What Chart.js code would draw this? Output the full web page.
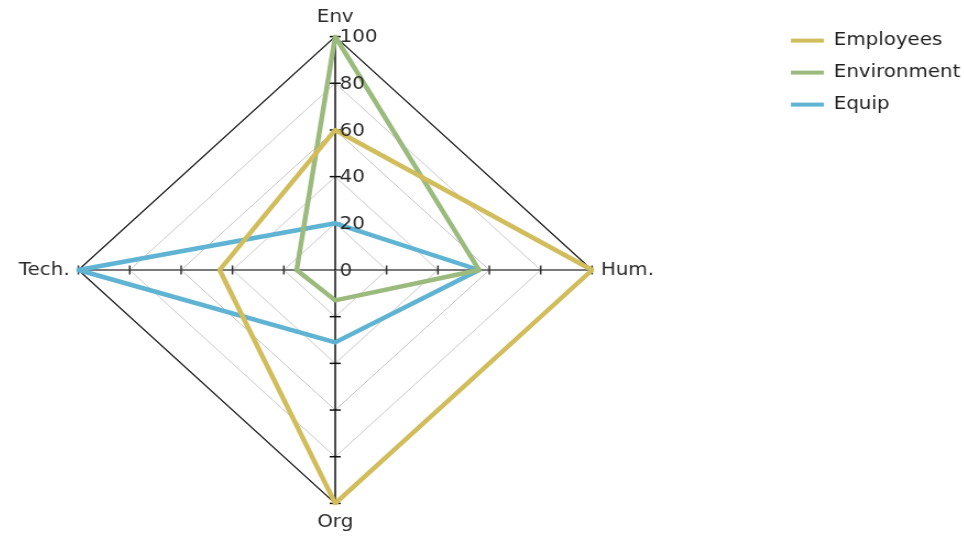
<!DOCTYPE html>
<html>
<head>
<meta charset="utf-8">
<script src="https://cdn.jsdelivr.net/npm/chart.js@4.4.0/dist/chart.umd.min.js"></script>
<style>
  html, body { margin: 0; padding: 0; background: #fff; overflow: hidden; }
  /* the reference is drawn slightly wider than tall, so stretch the canvas;
     the canvas is wider than the page and shifted so the radar sits left of centre */
  #wrap { width: 978px; height: 536px; transform: translateX(-105px) scaleX(1.1005); transform-origin: 0 0; }
</style>
</head>
<body>
<div id="wrap"><canvas id="radar" width="978" height="536"></canvas></div>
<script>
const axes = ["Env", "Hum.", "Org", "Tech."];
const employees = [60, 100, 100, 45];
const environment = [100, 56, 13, 15];
const equip = [20, 56, 31, 100];
const tickValues = [0, 20, 40, 60, 80, 100];
const tickLabels = ["0", "20", "40", "60", "80", "100"];

const FONT = "'DejaVu Sans', Verdana, sans-serif";

// tick marks across each axis + value labels along the top axis
const axisTicks = {
  id: "axisTicks",
  beforeDatasetsDraw(chart) {
    const s = chart.scales.r;
    const ctx = chart.ctx;
    ctx.save();
    axes.forEach((name, i) => {
      const a = s.getIndexAngle(i) - Math.PI / 2;
      const nx = -Math.sin(a);
      const ny = Math.cos(a);
      const half = i % 2 === 0 ? 5 : 4.5;
      ctx.strokeStyle = i % 2 === 0 ? "#111" : "#333";
      ctx.lineWidth = 1.5;
      tickValues.slice(1).forEach((v) => {
        const p = s.getPointPositionForValue(i, v);
        ctx.beginPath();
        ctx.moveTo(p.x - nx * half, p.y - ny * half);
        ctx.lineTo(p.x + nx * half, p.y + ny * half);
        ctx.stroke();
      });
    });
    ctx.restore();
  },
  afterDatasetsDraw(chart) {
    const s = chart.scales.r;
    const ctx = chart.ctx;
    ctx.save();
    ctx.font = "18px " + FONT;
    ctx.fillStyle = "#2a2a2a";
    ctx.textAlign = "left";
    ctx.textBaseline = "middle";
    tickValues.forEach((v, k) => {
      const p = s.getPointPositionForValue(0, v);
      ctx.fillText(tickLabels[k], p.x + 4, p.y + 1);
    });
    ctx.restore();
  },
};

const gold = "#d2bd5c";
const green = "#9bba7d";
const blue = "#5fb3d3";

function series(label, data, color) {
  return {
    label: label,
    data: data,
    borderColor: color,
    backgroundColor: color,
    borderWidth: 4.5,
    borderJoinStyle: "bevel",
    fill: false,
    pointStyle: "rect",
    pointRadius: 2.5,
    pointBorderWidth: 0,
    pointBackgroundColor: color,
  };
}

new Chart(document.getElementById("radar"), {
  type: "radar",
  data: {
    labels: axes,
    datasets: [
      series("Employees", employees, gold),
      series("Environment", environment, green),
      series("Equip", equip, blue),
    ],
  },
  options: {
    responsive: false,
    animation: false,
    devicePixelRatio: 1,
    layout: { padding: { left: 0, right: 0, top: 8, bottom: 2 } },
    plugins: {
      tooltip: { enabled: false },
      legend: {
        position: "right",
        align: "start",
        title: { display: true, text: "", font: { size: 8 }, padding: 0 },
        labels: {
          font: { family: FONT, size: 18 },
          color: "#222",
          boxWidth: 30,
          boxHeight: 4,
          padding: 14,
          generateLabels: (chart) =>
            Chart.defaults.plugins.legend.labels
              .generateLabels(chart)
              .map((l) => ({ ...l, lineWidth: 0 })),
        },
      },
    },
    scales: {
      r: {
        min: 0,
        max: 100,
        ticks: { stepSize: 20, display: false },
        grid: {
          color: (c) => (c.tick && c.tick.value === 100 ? "#111" : "#c8c8c8"),
          lineWidth: (c) => (c.tick && c.tick.value === 100 ? 1.2 : 1),
        },
        angleLines: {
          color: (c) => (c.index % 2 === 0 ? "#111" : "#7a7a7a"),
          lineWidth: (c) => (c.index % 2 === 0 ? 1.5 : 2),
        },
        pointLabels: {
          font: { family: FONT, size: 18 },
          color: "#2a2a2a",
          padding: 8,
        },
      },
    },
  },
  plugins: [axisTicks],
});
</script>
</body>
</html>
